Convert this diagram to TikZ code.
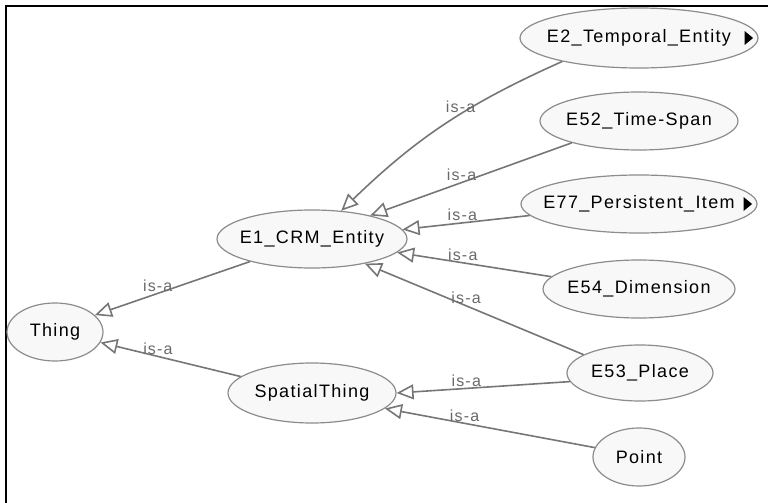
\documentclass[tikz,border=0pt]{standalone}
\usepackage{fontspec}
\setmainfont{Liberation Sans}[LetterSpace=7.5]
\usepackage{tikz}
\usetikzlibrary{arrows.meta, shapes.geometric, calc}
\usepackage{xcolor}
\definecolor{nodefill}{RGB}{248,248,248}
\definecolor{nodeline}{RGB}{140,140,140}
\definecolor{edgegray}{RGB}{118,118,118}
\definecolor{labelgray}{RGB}{105,105,105}

\tikzset{
  concept/.style={ellipse, draw=nodeline, fill=nodefill, line width=0.6pt,
                  inner xsep=-20pt, inner ysep=0pt, text=black,
                  font=\fontsize{9}{10}\selectfont},
  isa/.style={draw=edgegray, line width=0.8pt,
              -{Triangle[length=8.5pt, width=7.5pt, fill=white]}},
  isalabel/.style={above, inner sep=0.5pt, text=labelgray,
                   font=\fontsize{8}{9}\selectfont},
}

\begin{document}
\begin{tikzpicture}[x=0.5pt, y=-0.5pt]

\useasboundingbox (0,0) rectangle (768,503);

% Cadre
\draw[line width=1.1pt] (6,503) -- (6,6) -- (768,6);

% Classes
\node[concept, minimum width=48pt, minimum height=29pt]  (thing)   at (55,332)  {Thing};
\node[concept, minimum width=95pt, minimum height=29pt]  (e1)      at (312,239) {E1\_CRM\_Entity};
\node[concept, minimum width=84pt, minimum height=30pt]  (spatial) at (312,393) {SpatialThing};
\node[concept, minimum width=119pt, minimum height=30pt] (e2)      at (639,38)  {E2\_Temporal\_Entity};
\node[concept, minimum width=99pt, minimum height=29pt]  (e52)     at (639,121) {E52\_Time-Span};
\node[concept, minimum width=118pt, minimum height=29pt] (e77)     at (639,204) {E77\_Persistent\_Item};
\node[concept, minimum width=96pt, minimum height=29pt]  (e54)     at (639,289) {E54\_Dimension};
\node[concept, minimum width=73pt, minimum height=28pt]  (e53)     at (640,373) {E53\_Place};
\node[concept, minimum width=46pt, minimum height=29pt]  (point)   at (639,457) {Point};

% Sous-classes repliées
\foreach \n in {e2,e77}
  \fill ($(\n.east)+(-14,-7)$) -- ($(\n.east)+(-5.5,0)$) -- ($(\n.east)+(-14,7)$) -- cycle;

% Relations is-a
\draw[isa] (e1.200) -- node[isalabel, pos=.595] {is-a} (thing.23);
\draw[isa] (spatial.167) -- node[isalabel, pos=.59] {is-a} (thing.347);
\draw[isa] (e2.197) to[bend right=10] node[isalabel, pos=.42] {is-a} (e1.44);
\draw[isa] (e52.198) -- node[isalabel, pos=.547] {is-a} (e1.22);
\draw[isa] (e77.186) -- node[isalabel, pos=.53] {is-a} (e1.6);
\draw[isa] (e54.172) -- node[isalabel, pos=.574] {is-a} (e1.351);
\draw[isa] (e53.162) -- node[isalabel, pos=.537] {is-a} (e1.335);
\draw[isa] (e53.187) -- node[isalabel, pos=.598] {is-a} (spatial.0);
\draw[isa] (point.168) -- node[isalabel, pos=.62] {is-a} (spatial.348);

\end{tikzpicture}
\end{document}
